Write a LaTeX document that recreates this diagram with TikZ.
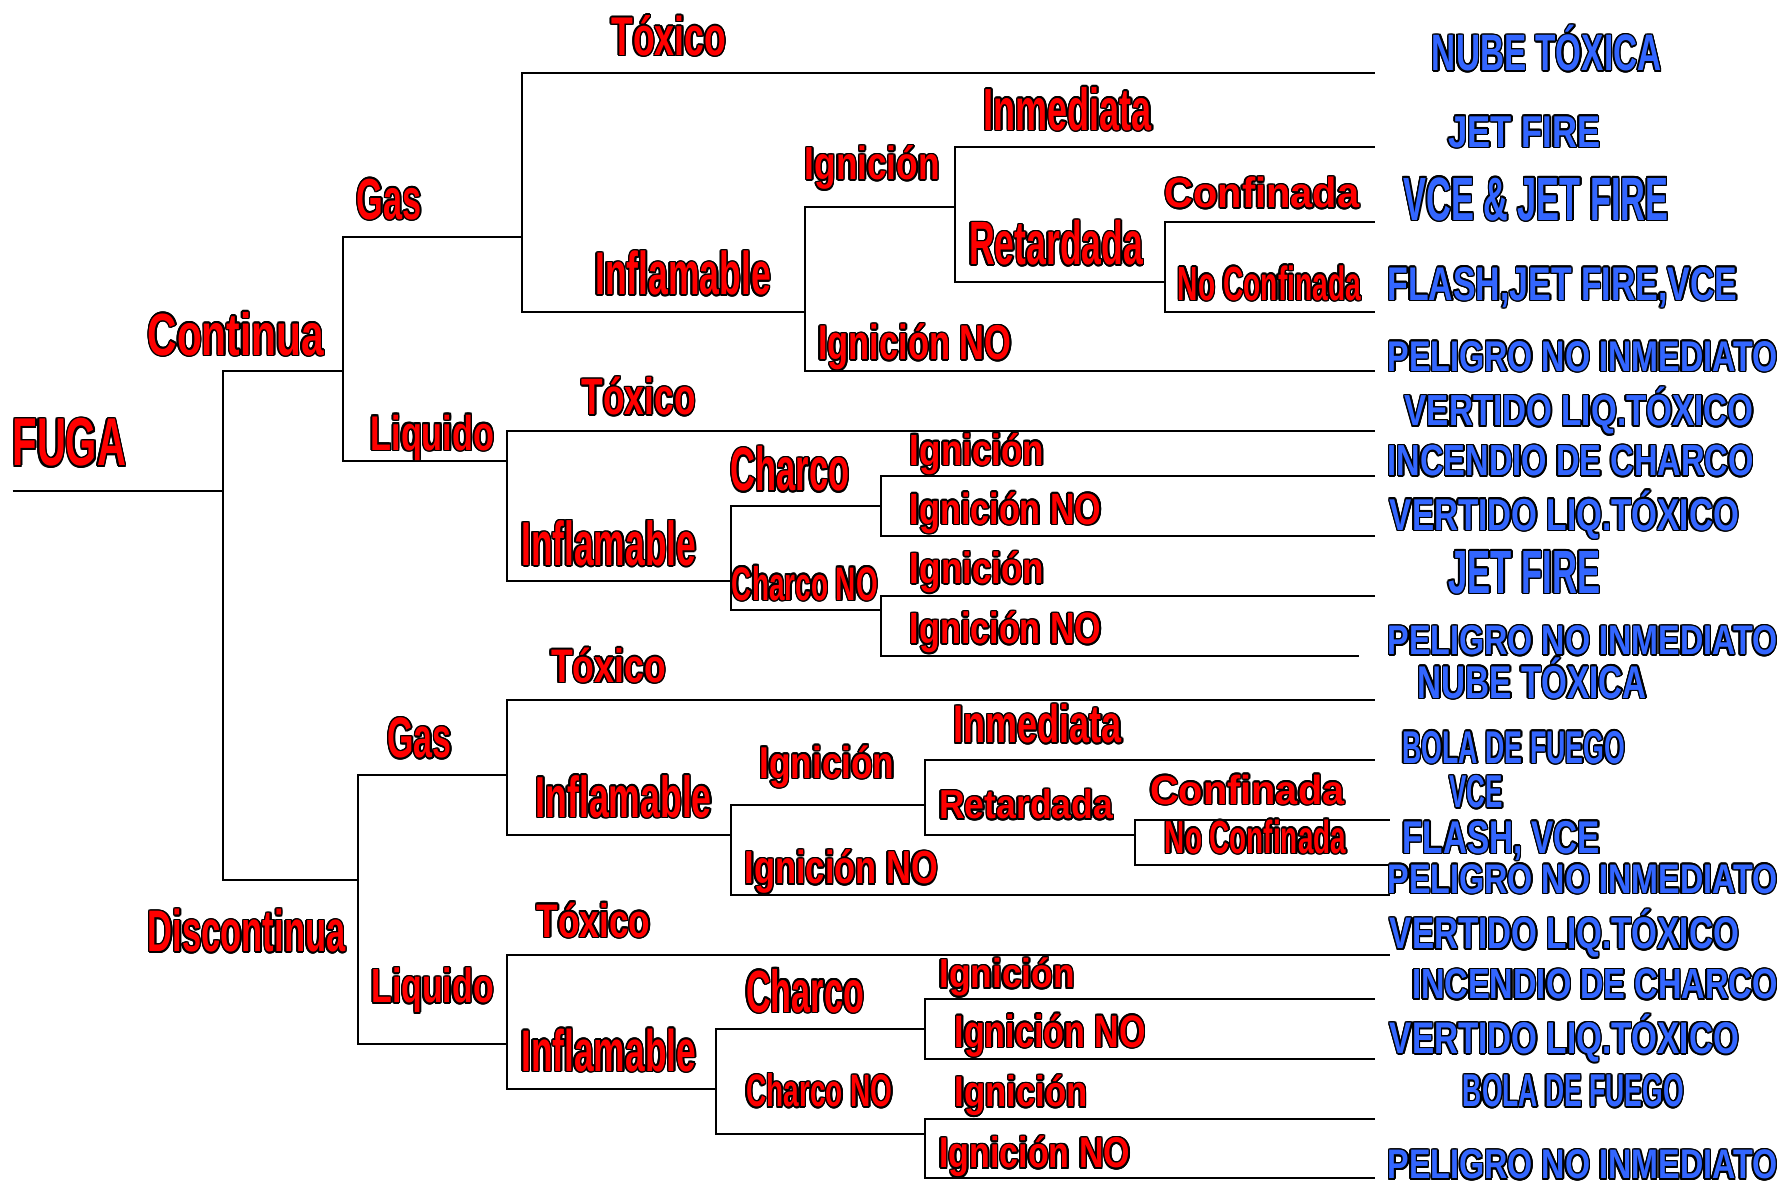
\documentclass[tikz,border=0pt]{standalone}
\usepackage{fontspec}
\setmainfont{Liberation Sans}
\usepackage{graphicx}
\definecolor{redtxt}{RGB}{255,0,0}
\definecolor{bluetxt}{RGB}{51,102,255}
\newlength\un \setlength\un{0.56825pt}
\newlength\labcap
\newsavebox\labboxreg
\newsavebox\labboxblk
\newcommand\olbox{%
  \foreach \ang in {0,22.5,...,337.5}{%
    \pgfmathsetlengthmacro\odx{0.75pt*cos(\ang)}%
    \pgfmathsetlengthmacro\ody{0.75pt*sin(\ang)}%
    \rlap{\kern\odx\raisebox{\ody}{\copy\labboxblk}}}%
  \copy\labboxreg}
\newcommand\mklab[4]{%
  \begingroup\bfseries
  \fontsize{10pt}{10pt}\selectfont
  \setlength\labcap{\fontcharht\font`H}%
  \pgfmathsetmacro\labfs{10*#3*0.56825/\labcap}%
  \fontsize{\labfs pt}{\labfs pt}\selectfont
  \sbox\labboxreg{\resizebox{#2\un}{\height}{\color{#1}#4}}%
  \sbox\labboxblk{\resizebox{#2\un}{\height}{\color{black}#4}}%
  \olbox
  \endgroup}
\newcommand\RL[3]{\mklab{redtxt}{#1}{#2}{#3}}
\newcommand\BL[3]{\mklab{bluetxt}{#1}{#2}{#3}}
\tikzset{
  lbl/.style={anchor=base west, inner sep=0pt, outer sep=0pt},
  branch/.style={line width=1pt, draw=black}
}
\begin{document}
\begin{tikzpicture}[x=0.56825pt, y=-0.56825pt]
\useasboundingbox (0,0) rectangle (1568,1040);
\fill[white] (0,0) rectangle (1568,1040);
% ---- branch points
\coordinate (fuga0) at (11,432);
\coordinate (fuga1) at (196.5,432);
\coordinate (C) at (301.5,326.5);
\coordinate (CG) at (459.1,208.8);
\coordinate (CGT) at (1209.7,64);
\coordinate (CGI) at (708.7,274.4);
\coordinate (CGII) at (840.1,182.1);
\coordinate (CGIIi) at (1209.7,129.3);
\coordinate (CGIIr) at (1024.9,248.1);
\coordinate (CGIIrc) at (1209.7,195);
\coordinate (CGIIrn) at (1209.7,274.4);
\coordinate (CGIN) at (1209.7,326.6);
\coordinate (CL) at (446,405.6);
\coordinate (CLT) at (1209.7,379.5);
\coordinate (CLI) at (643,510.9);
\coordinate (CLIC) at (775.4,445.5);
\coordinate (CLICi) at (1209.7,418.6);
\coordinate (CLICn) at (1209.7,471.4);
\coordinate (CLIN) at (775.4,537.1);
\coordinate (CLINi) at (1209.7,524.3);
\coordinate (CLINn) at (1196,577);
\coordinate (D) at (314.7,774.2);
\coordinate (DG) at (446.5,681.7);
\coordinate (DGT) at (1209.7,616.1);
\coordinate (DGI) at (643,734.4);
\coordinate (DGII) at (814.3,708.2);
\coordinate (DGIIi) at (1209.7,669.1);
\coordinate (DGIIr) at (998.6,734.4);
\coordinate (DGIIrc) at (1222.9,721.6);
\coordinate (DGIIrn) at (1222.9,760.8);
\coordinate (DGIN) at (1222.9,787.2);
\coordinate (DL) at (446.5,918.9);
\coordinate (DLT) at (1222.9,839.9);
\coordinate (DLI) at (630.4,958.4);
\coordinate (DLIC) at (814.3,905.8);
\coordinate (DLICi) at (1209.7,879.4);
\coordinate (DLICn) at (1209.7,932);
\coordinate (DLIN) at (814.3,998.2);
\coordinate (DLINi) at (1209.7,984.5);
\coordinate (DLINn) at (1209.7,1036.5);
% ---- connectors
\draw[branch] (fuga0) -- (fuga1);
\draw[branch] (fuga1) |- (C);
\draw[branch] (fuga1) |- (D);
\draw[branch] (C) |- (CG);
\draw[branch] (C) |- (CL);
\draw[branch] (CG) |- (CGT);
\draw[branch] (CG) |- (CGI);
\draw[branch] (CGI) |- (CGII);
\draw[branch] (CGI) |- (CGIN);
\draw[branch] (CGII) |- (CGIIi);
\draw[branch] (CGII) |- (CGIIr);
\draw[branch] (CGIIr) |- (CGIIrc);
\draw[branch] (CGIIr) |- (CGIIrn);
\draw[branch] (CL) |- (CLT);
\draw[branch] (CL) |- (CLI);
\draw[branch] (CLI) |- (CLIC);
\draw[branch] (CLI) |- (CLIN);
\draw[branch] (CLIC) |- (CLICi);
\draw[branch] (CLIC) |- (CLICn);
\draw[branch] (CLIN) |- (CLINi);
\draw[branch] (CLIN) |- (CLINn);
\draw[branch] (D) |- (DG);
\draw[branch] (D) |- (DL);
\draw[branch] (DG) |- (DGT);
\draw[branch] (DG) |- (DGI);
\draw[branch] (DGI) |- (DGII);
\draw[branch] (DGI) |- (DGIN);
\draw[branch] (DGII) |- (DGIIi);
\draw[branch] (DGII) |- (DGIIr);
\draw[branch] (DGIIr) |- (DGIIrc);
\draw[branch] (DGIIr) |- (DGIIrn);
\draw[branch] (DL) |- (DLT);
\draw[branch] (DL) |- (DLI);
\draw[branch] (DLI) |- (DLIC);
\draw[branch] (DLI) |- (DLIN);
\draw[branch] (DLIC) |- (DLICi);
\draw[branch] (DLIC) |- (DLICn);
\draw[branch] (DLIN) |- (DLINi);
\draw[branch] (DLIN) |- (DLINn);
% ---- red labels
\node[lbl] (lFuga) at (11,410) {\RL{100}{41}{FUGA}};
\node[lbl] (lCont) at (130,312.5) {\RL{155}{36}{Continua}};
\node[lbl] (lDisc) at (130,837.5) {\RL{174}{35.5}{Discontinua}};
\node[lbl] (lCGas) at (314,193) {\RL{57}{35}{Gas}};
\node[lbl] (lCLiq) at (326,396) {\RL{109}{29.5}{Liquido}};
\node[lbl] (lCGTox) at (538,48.8) {\RL{101}{33}{Tóxico}};
\node[lbl] (lCGInf) at (523.7,259.3) {\RL{154.5}{36.5}{Inflamable}};
\node[lbl] (lCGIgn) at (708,158.3) {\RL{119}{28}{Ignición}};
\node[lbl] (lCGIgnNo) at (720,316.5) {\RL{170}{29.5}{Ignición NO}};
\node[lbl] (lCGInm) at (865.5,114.5) {\RL{148}{36}{Inmediata}};
\node[lbl] (lCGRet) at (852.8,233) {\RL{153}{37}{Retardada}};
\node[lbl] (lCGConf) at (1025,182.8) {\RL{171}{25.5}{Confinada}};
\node[lbl] (lCGNoConf) at (1036.5,264.3) {\RL{161}{29}{No Confinada}};
\node[lbl] (lCLTox) at (512,365) {\RL{100}{31}{Tóxico}};
\node[lbl] (lCLInf) at (458.6,497.6) {\RL{154}{37.5}{Inflamable}};
\node[lbl] (lCLCh) at (643,432) {\RL{104.5}{37}{Charco}};
\node[lbl] (lCLChNo) at (644,528) {\RL{128.5}{28.5}{Charco NO}};
\node[lbl] (lCLChIg) at (800.7,409.2) {\RL{118}{26.5}{Ignición}};
\node[lbl] (lCLChIgNo) at (800.7,461.3) {\RL{168.5}{26.5}{Ignición NO}};
\node[lbl] (lCLNoIg) at (800.7,513.5) {\RL{118}{26.5}{Ignición}};
\node[lbl] (lCLNoIgNo) at (800.7,566.5) {\RL{168.5}{26.5}{Ignición NO}};
\node[lbl] (lDGTox) at (485,600.5) {\RL{101}{28.5}{Tóxico}};
\node[lbl] (lDGas) at (341,666.8) {\RL{56.5}{34.5}{Gas}};
\node[lbl] (lDGInf) at (471.3,719) {\RL{155}{35}{Inflamable}};
\node[lbl] (lDGIgn) at (668.3,684.8) {\RL{118.7}{27}{Ignición}};
\node[lbl] (lDGInm) at (839,653.7) {\RL{148}{32}{Inmediata}};
\node[lbl] (lDGRet) at (826.5,720.6) {\RL{152.8}{24.4}{Retardada}};
\node[lbl] (lDGConf) at (1012,707.6) {\RL{171}{24.6}{Confinada}};
\node[lbl] (lDGNoConf) at (1025,750.7) {\RL{159.4}{28}{No Confinada}};
\node[lbl] (lDGIgnNo) at (655.2,777.8) {\RL{170}{28}{Ignición NO}};
\node[lbl] (lDLTox) at (472.3,824.5) {\RL{100}{28.5}{Tóxico}};
\node[lbl] (lDLiq) at (326.8,882.3) {\RL{107.6}{29}{Liquido}};
\node[lbl] (lDLInf) at (458.6,942.7) {\RL{154}{35.5}{Inflamable}};
\node[lbl] (lDLCh) at (656.7,890.5) {\RL{103.5}{36}{Charco}};
\node[lbl] (lDLChNo) at (656.7,973.8) {\RL{128.8}{27.5}{Charco NO}};
\node[lbl] (lDLChIg) at (826.5,869.3) {\RL{119}{24.5}{Ignición}};
\node[lbl] (lDLChIgNo) at (840,921.5) {\RL{168}{27.5}{Ignición NO}};
\node[lbl] (lDLNoIg) at (840,973.8) {\RL{117}{26}{Ignición}};
\node[lbl] (lDLNoIgNo) at (826.5,1027.7) {\RL{168}{26}{Ignición NO}};
% ---- blue outcomes
\node[lbl] (b1) at (1260,62.3) {\BL{202}{31}{NUBE TÓXICA}};
\node[lbl] (b2) at (1274.5,129.6) {\BL{133.5}{27}{JET FIRE}};
\node[lbl] (b3) at (1235,193.6) {\BL{233}{37}{VCE \& JET FIRE}};
\node[lbl] (b4) at (1221,264.3) {\BL{307.6}{28.6}{FLASH,JET FIRE,VCE}};
\node[lbl] (b5) at (1221,326.6) {\BL{343}{26}{PELIGRO NO INMEDIATO}};
\node[lbl] (b6) at (1236,374.8) {\BL{307}{26.3}{VERTIDO LIQ.TÓXICO}};
\node[lbl] (b7) at (1221,418.6) {\BL{322}{26.3}{INCENDIO DE CHARCO}};
\node[lbl] (b8) at (1223,466.4) {\BL{307}{27}{VERTIDO LIQ.TÓXICO}};
\node[lbl] (b9) at (1274.5,521.9) {\BL{133.5}{37}{JET FIRE}};
\node[lbl] (b10) at (1221,576.2) {\BL{343}{25}{PELIGRO NO INMEDIATO}};
\node[lbl] (b11) at (1247.6,614.5) {\BL{201.4}{27.8}{NUBE TÓXICA}};
\node[lbl] (b12) at (1234,671.6) {\BL{196}{27.8}{BOLA DE FUEGO}};
\node[lbl] (b13) at (1275.5,710.9) {\BL{47}{27.8}{VCE}};
\node[lbl] (b14) at (1234,750.7) {\BL{174}{27.8}{FLASH, VCE}};
\node[lbl] (b15) at (1221,786) {\BL{343}{25}{PELIGRO NO INMEDIATO}};
\node[lbl] (b16) at (1223,835) {\BL{307}{26.8}{VERTIDO LIQ.TÓXICO}};
\node[lbl] (b17) at (1242.6,879) {\BL{321.4}{25.5}{INCENDIO DE CHARCO}};
\node[lbl] (b18) at (1223,927) {\BL{307}{26.8}{VERTIDO LIQ.TÓXICO}};
\node[lbl] (b19) at (1287.2,973.8) {\BL{194.4}{27.8}{BOLA DE FUEGO}};
\node[lbl] (b20) at (1221,1037.4) {\BL{343}{25}{PELIGRO NO INMEDIATO}};
\end{tikzpicture}
\end{document}
